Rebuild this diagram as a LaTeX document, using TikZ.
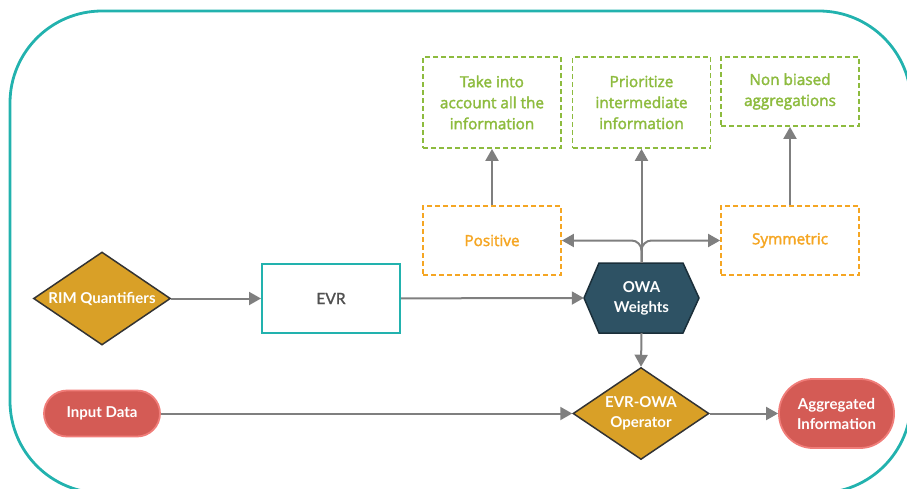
\documentclass[tikz,border=0pt]{standalone}
\usepackage{fontspec}
\setmainfont{Lato}
\newfontfamily\opensans[FakeBold=2.2]{Open Sans}
\newfontfamily\latomed[FakeBold=1.5]{Lato}
\usetikzlibrary{shapes.geometric,arrows.meta}
\definecolor{frameteal}{HTML}{22B2AE}
\definecolor{lgreen}{HTML}{8DBB3E}
\definecolor{lorange}{HTML}{F5A623}
\definecolor{gold}{HTML}{D9A027}
\definecolor{slate}{HTML}{2E5264}
\definecolor{slateb}{HTML}{1B2F3A}
\definecolor{redfill}{HTML}{D45B55}
\definecolor{redline}{HTML}{F07D79}
\definecolor{arrgray}{HTML}{7F7F7F}
\definecolor{txtgray}{HTML}{505050}
\tikzset{
  greenbox/.style={draw=lgreen, line width=1.8pt, dash pattern=on 5pt off 3pt, text=lgreen,
    minimum width=138pt, align=center, font=\opensans\fontsize{15.3}{21}\selectfont},
  orangebox/.style={draw=lorange, line width=1.8pt, dash pattern=on 5pt off 3pt, text=lorange,
    minimum width=138pt, minimum height=69pt, font=\opensans\fontsize{15.3}{21}\selectfont},
  golddiamond/.style={diamond, draw=black!80, line width=1.5pt, fill=gold, text=white,
    inner sep=0pt, aspect=1.5, minimum width=137pt, minimum height=93pt, align=center,
    font=\bfseries\fontsize{15}{20}\selectfont},
  redpill/.style={draw=redline, line width=1.8pt, fill=redfill, text=white, align=center,
    font=\bfseries\fontsize{15}{20}\selectfont},
  conn/.style={draw=arrgray, line width=2pt, -{Triangle[length=12pt,width=13pt]}},
}
\begin{document}
\begin{tikzpicture}[x=1pt,y=-1pt]
\useasboundingbox (0,0) rectangle (907,488);
% frame
\draw[frameteal, line width=2.8pt, rounded corners=92pt] (10,11) rectangle (911,493);

% top green boxes
\node[greenbox, minimum height=91pt] (take) at (492,102.5) {Take into\\account all the\\information};
\node[greenbox, minimum height=91pt] (prio) at (641.5,102.5) {Prioritize\\intermediate\\information};
\node[greenbox, minimum height=69pt] (nonb) at (790,91.5) {Non biased\\aggregations};

% orange boxes
\node[orangebox] (pos) at (492,240.5) {Positive};
\node[orangebox] (sym) at (790,240.5) {Symmetric};

% RIM diamond
\node[golddiamond] (rim) at (102,298.5) {RIM Quantifiers};

% EVR
\node[draw=frameteal, line width=2pt, minimum width=138pt, minimum height=69pt, text=txtgray,
  font=\latomed\fontsize{15.5}{20}\selectfont] (evr) at (331,298.5) {EVR};

% OWA hexagon
\fill[slate] (584,298) -- (599,263) -- (683,263) -- (699,298) -- (683,333) -- (599,333) -- cycle;
\draw[slateb, line width=1.5pt] (584,298) -- (599,263) -- (683,263) -- (699,298) -- (683,333) -- (599,333) -- cycle;
\node[minimum width=115pt, minimum height=70pt, inner sep=0pt, text=white, align=center,
  font=\bfseries\fontsize{15}{20}\selectfont] (owa) at (641.5,298) {OWA\\Weights};

% EVR-OWA diamond
\node[golddiamond, minimum width=136pt, minimum height=92pt] (op) at (641,413.5) {EVR-OWA\\Operator};

% Input data / Aggregated
\node[redpill, minimum width=116pt, minimum height=46pt, rounded corners=23pt] (inp) at (102,413.5) {Input Data};
\node[redpill, minimum width=115pt, minimum height=69pt, rounded corners=34pt] (agg) at (836.5,413.5) {Aggregated\\Information};

% connectors
\draw[conn] (rim) -- (evr);
\draw[conn] (evr) -- (owa.west);
\draw[conn] (owa.south) -- (op.north);
\draw[conn] (inp) -- (op);
\draw[conn] (op) -- (agg);
\draw[conn] (owa.north) -- (owa.north |- prio.south);
\draw[conn, rounded corners=10pt] (owa.north) |- (pos.east);
\draw[conn, rounded corners=10pt] (owa.north) |- (sym.west);
\draw[conn] (pos.north) -- (take.south);
\draw[conn] (sym.north) -- (nonb.south);
\end{tikzpicture}
\end{document}
